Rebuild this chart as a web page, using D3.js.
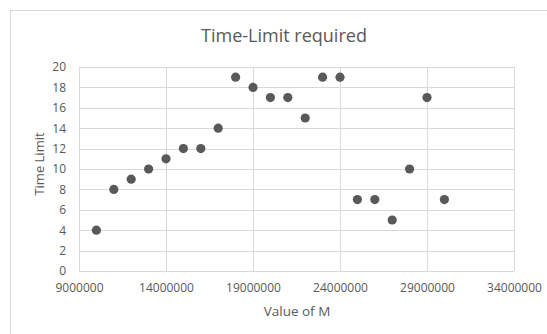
<!DOCTYPE html>
<html><head><meta charset="utf-8">
<script src="https://cdn.jsdelivr.net/npm/d3@7"></script>
<style>body{margin:0;background:#fff}svg{display:block}text{font-family:"Open Sans",sans-serif;fill:#595959}</style>
</head><body><svg id="c" width="547" height="334"></svg>
<script>
const xValues = [10000000,11000000,12000000,13000000,14000000,15000000,16000000,17000000,18000000,19000000,20000000,21000000,22000000,23000000,24000000,25000000,26000000,27000000,28000000,29000000,30000000];
const yValues = [4,8,9,10,11,12,12,14,19,18,17,17,15,19,19,7,7,5,10,17,7];
const xTicks = [9000000,14000000,19000000,24000000,29000000,34000000];
const yTicks = [0,2,4,6,8,10,12,14,16,18,20];
const title = "Time-Limit required", xTitle = "Value of M", yTitle = "Time Limit";

const svg = d3.select("#c");
svg.append("rect").attr("x",10.5).attr("y",10.5).attr("width",560).attr("height",340)
  .attr("fill","#fff").attr("stroke","#d9d9d9");
const L=79, R=514, T=67, B=271;
const x = d3.scaleLinear().domain([9000000,34000000]).range([L,R]);
const y = d3.scaleLinear().domain([0,20]).range([B,T]);

const g = svg.append("g");
g.selectAll(".hg").data(yTicks).join("line")
  .attr("x1",L).attr("x2",R).attr("y1",d=>Math.round(y(d))+0.5).attr("y2",d=>Math.round(y(d))+0.5)
  .attr("stroke","#d9d9d9");
g.selectAll(".vg").data(xTicks).join("line")
  .attr("y1",T).attr("y2",B).attr("x1",d=>Math.round(x(d))+0.5).attr("x2",d=>Math.round(x(d))+0.5)
  .attr("stroke","#d9d9d9");

const yAxis = svg.append("g").attr("transform",`translate(${L},0)`)
  .call(d3.axisLeft(y).tickValues(yTicks).tickSize(0).tickPadding(13));
yAxis.select(".domain").remove();
yAxis.selectAll("text").attr("font-size","12px").style("fill","#595959").style("font-family","'Open Sans',sans-serif");

const xAxis = svg.append("g").attr("transform",`translate(0,${B})`)
  .call(d3.axisBottom(x).tickValues(xTicks).tickSize(0).tickPadding(12).tickFormat(d3.format("d")));
xAxis.select(".domain").remove();
xAxis.selectAll("text").attr("font-size","12px").style("fill","#595959").style("font-family","'Open Sans',sans-serif");

svg.selectAll(".pt").data(xValues).join("circle")
  .attr("cx",d=>x(d)).attr("cy",(d,i)=>y(yValues[i])).attr("r",4.6).attr("fill","#595959");

svg.append("text").attr("x",284).attr("y",42).attr("text-anchor","middle").attr("font-size","18px").text(title);
svg.append("text").attr("x",297).attr("y",316).attr("text-anchor","middle").attr("font-size","13.5px").text(xTitle);
svg.append("text").attr("transform","translate(44,164) rotate(-90)").attr("text-anchor","middle").attr("font-size","13px").text(yTitle);
</script></body></html>
